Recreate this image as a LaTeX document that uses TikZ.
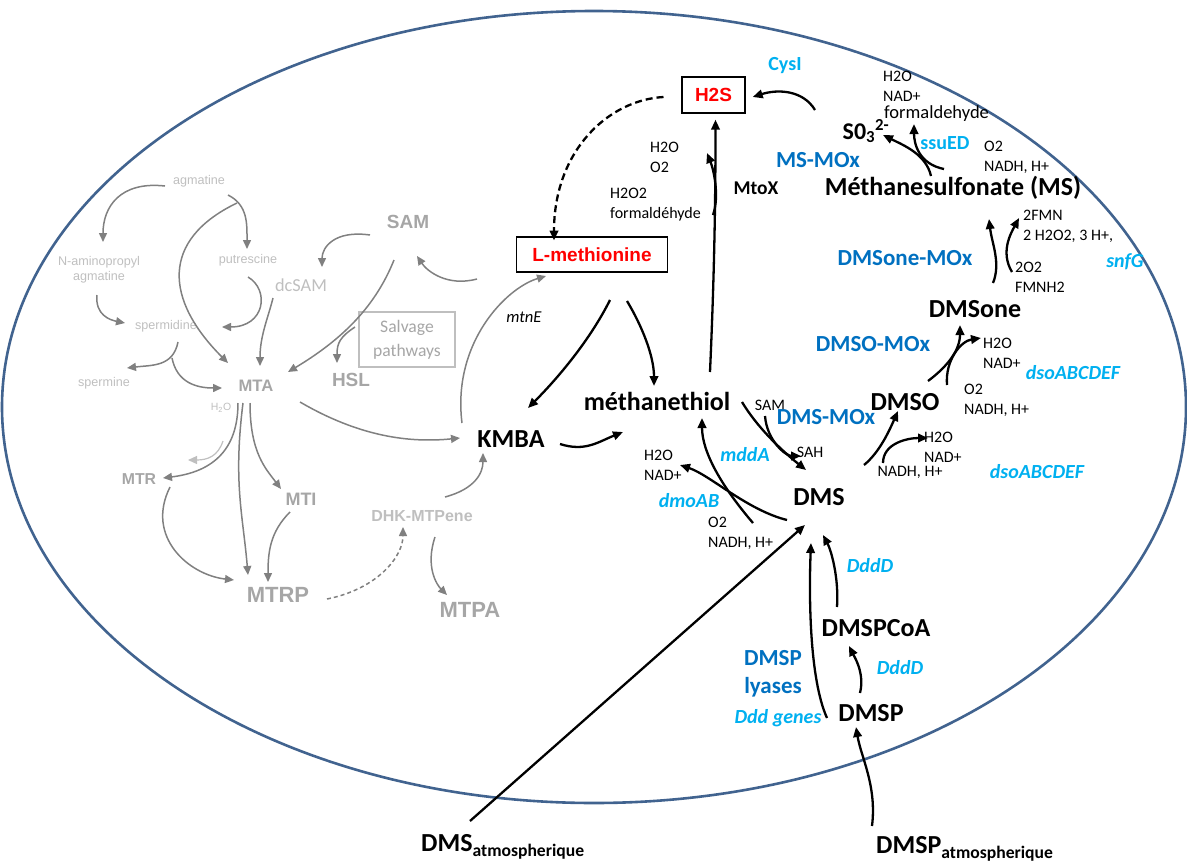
\documentclass[tikz,border=0pt]{standalone}
\usepackage{fontspec}
\setmainfont{Carlito}
\newfontfamily\arialf{Liberation Sans}
\usetikzlibrary{arrows.meta}
\definecolor{enzblue}{HTML}{0070C0}
\definecolor{geneblue}{HTML}{00B0F0}
\definecolor{cellblue}{HTML}{41638F}
\definecolor{lgrey}{HTML}{BFBFBF}
\definecolor{mgrey}{HTML}{A6A6A6}
\definecolor{agrey}{HTML}{808080}

\tikzset{
  met/.style={font=\bfseries\fontsize{26}{30}\selectfont, inner sep=1pt},
  enz/.style={font=\bfseries\fontsize{23}{28}\selectfont, text=enzblue, inner sep=1pt, align=center},
  gen/.style={font=\bfseries\itshape\fontsize{20}{24}\selectfont, text=geneblue, inner sep=1pt},
  genup/.style={font=\bfseries\fontsize{20}{24}\selectfont, text=geneblue, inner sep=1pt},
  cof/.style={font=\fontsize{16}{20}\selectfont, align=left, anchor=west, inner sep=0pt},
  redbox/.style={draw, line width=1.4pt, font=\arialf\bfseries\fontsize{19}{22}\selectfont, text=red},
  gsmall/.style={font=\arialf\fontsize{12.6}{15}\selectfont, text=lgrey, align=center, inner sep=1pt},
  gbig/.style={font=\arialf\bfseries\fontsize{#1}{#1}\selectfont, text=mgrey, inner sep=1pt},
  flux/.style={line width=2.3pt, -{Triangle[length=10pt,width=8.5pt]}},
  gflux/.style={agrey, line width=1.5pt, -{Triangle[length=9pt,width=8pt]}},
}

\begin{document}
\begin{tikzpicture}[x=1pt,y=-1pt]
\useasboundingbox (0,0) rectangle (1187,865);
\draw[cellblue, line width=2.6pt] (594,407) ellipse [x radius=592, y radius=396];

\node[redbox, minimum width=63pt, minimum height=36pt] (h2s) at (713.5,95) {H2S};
\node[redbox, minimum width=151pt, minimum height=35pt] (lmet) at (592,254.5) {L-methionine};
\node[genup] (cysi) at (785,66) {CysI};
\node[met, font=\bfseries\fontsize{24}{28}\selectfont] (so3) at (866,131) {S0\textsubscript{3}\textsuperscript{2-}};
\node[enz] (msmox) at (818,160) {MS-MOx};
\node[genup] (ssued) at (945,143) {ssuED};
\node[cof] (msout) at (883,86) {H2O\\NAD+};
\node[cof, font=\fontsize{18.5}{22}\selectfont] (msald) at (884,114) {formaldehyde};
\node[cof] (msin) at (984,157) {O2\\NADH, H+};
\node[met] (ms) at (953,188) {Méthanesulfonate (MS)};
\node[met, font=\bfseries\fontsize{19.5}{22}\selectfont] (mtox) at (756,188) {MtoX};
\node[cof] (mtoxa) at (650,157) {H2O\\O2};
\node[cof] (mtoxb) at (610,205) {H2O2\\formaldéhyde};
\node[enz] (dmsonemox) at (905,258) {DMSone-MOx};
\node[cof] (fmnout) at (1023,226) {2FMN\\2 H2O2, 3 H+,};
\node[cof] (fmnin) at (1015,277) {2O2\\FMNH2};
\node[gen] (snfg) at (1125,262) {snfG};
\node[met] (dmsone) at (975,309) {DMSone};
\node[enz] (dmsomox) at (873,344) {DMSO-MOx};
\node[cof] (dmsoout) at (983,353) {H2O\\NAD+};
\node[gen] (dsoa) at (1073,373) {dsoABCDEF};
\node[cof] (dmsoin) at (964,400) {O2\\NADH, H+};
\node[met] (dmso) at (905,402) {DMSO};
\node[cof, anchor=center] (sam) at (770,405) {SAM};
\node[enz] (dmsmox) at (826,417) {DMS-MOx};
\node[cof, anchor=center] (sah) at (810,452) {SAH};
\node[cof] (dmsout) at (924,447) {H2O\\NAD+};
\node[cof, anchor=center] (dmsin) at (910,472) {NADH, H+};
\node[gen] (dsob) at (1037,472) {dsoABCDEF};
\node[met] (dms) at (819,497) {DMS};
\node[met] (mt) at (657,401) {méthanethiol};
\node[gen] (mdda) at (745,455) {mddA};
\node[cof] (mtout) at (644,465) {H2O\\NAD+};
\node[gen] (dmoab) at (689,501) {dmoAB};
\node[cof] (mtin) at (708,533) {O2\\NADH, H+};
\node[met] (kmba) at (511,439) {KMBA};
\node[cof, anchor=center, font=\itshape\fontsize{16.6}{20}\selectfont] (mtne) at (524,317) {mtnE};
\node[gen] (dddda) at (870,566) {DddD};
\node[met] (dmspcoa) at (876,628) {DMSPCoA};
\node[gen] (ddddb) at (900,668) {DddD};
\node[enz] (lyases) at (773,674) {DMSP\\lyases};
\node[gen] (dddgenes) at (778,718) {Ddd genes};
\node[met] (dmsp) at (871,713) {DMSP};
\node[met, anchor=base west] (dmsatm) at (420,851) {DMS\raisebox{-5pt}{\fontsize{17.6}{20}\selectfont atmospherique}};
\node[met, anchor=base west] (dmspatm) at (875,853) {DMSP\raisebox{-5pt}{\fontsize{17.6}{20}\selectfont atmospherique}};

\node[gsmall] (agm) at (199,181) {agmatine};
\node[gsmall] (nap) at (99,270) {N-aminopropyl\\agmatine};
\node[gsmall] (put) at (248,260) {putrescine};
\node[gsmall, font=\fontsize{18.3}{20}\selectfont] (dcsam) at (301,285) {dcSAM};
\node[gsmall] (spd) at (166,326) {spermidine};
\node[gsmall] (spm) at (104,383) {spermine};
\node[gbig=16.6] (mta) at (256,386) {MTA};
\node[gsmall, font=\arialf\fontsize{10.5}{12}\selectfont] (wat) at (221,408) {H\textsubscript{2}O};
\node[gbig=19] (gsam) at (408,222) {SAM};
\node[gbig=19] (hsl) at (351,380) {HSL};
\node[draw=lgrey, line width=1.5pt, minimum width=96pt, minimum height=55pt, align=center, text=mgrey, font=\fontsize{17.6}{24}\selectfont] (salv) at (407,339.5) {Salvage\\pathways};
\node[gbig=15.8] (mtr) at (139,479) {MTR};
\node[gbig=18] (mti) at (301,499) {MTI};
\node[gbig=16, text=lgrey] (dhk) at (422,516) {DHK-MTPene};
\node[gbig=22] (mtrp) at (278,595) {MTRP};
\node[gbig=22] (mtpa) at (470,610) {MTPA};

\draw[flux, dash pattern=on 7pt off 4pt] ([shift={(-50,2)}]h2s.center) .. controls +(-55,3) and +(0,-90) .. ([shift={(-38,-14)}]lmet.center);
\draw[flux] ([shift={(-51,-21)}]so3.center) .. controls +(-12,-20) and +(25,-8) .. ([shift={(7,2)}]h2s.east);
\draw[flux] ([shift={(-22,-12)}]ms.center) .. controls +(-5,-22) and +(20,10) .. ([shift={(17,4)}]so3.center);
\draw[flux] ([shift={(-40,12)}]msin.west) .. controls +(-25,-5) and +(0,20) .. ([shift={(30,10)}]msald.west);
\draw[flux] ([shift={(53,-29)}]mt.center) .. controls +(4,-90) and +(0,90) .. ([shift={(2,6)}]h2s.south);
\draw[flux] ([shift={(103,10)}]mtoxb.west) .. controls +(7,-20) and +(6,15) .. ([shift={(57,-4)}]mtoxa.west);
\draw[flux] ([shift={(18,-26)}]dmsone.center) .. controls +(8,-20) and +(3,25) .. ([shift={(36,31)}]ms.center);
\draw[flux] ([shift={(-3,-5)}]fmnin.west) .. controls +(-12,-20) and +(-8,15) .. ([shift={(-4,-8)}]fmnout.west);
\draw[flux] ([shift={(23,-21)}]dmso.center) .. controls +(20,-15) and +(0,25) .. ([shift={(-15,16)}]dmsone.center);
\draw[flux] ([shift={(-17,-15)}]dmsoin.west) .. controls +(-2,-25) and +(-20,3) .. ([shift={(-2,-15)}]dmsoout.west);
\draw[flux] ([shift={(45,-32)}]dms.center) .. controls +(16,-13) and +(-8,18) .. ([shift={(-7,9)}]dmso.center);
\draw[flux] ([shift={(-27,-9)}]dmsin.center) .. controls +(0,-20) and +(-20,0) .. ([shift={(4,-9)}]dmsout.west);
\draw[flux] ([shift={(85,1)}]mt.center) .. controls +(15,25) and +(-25,-20) .. ([shift={(-13,-27)}]dms.center);
\draw[flux] ([shift={(-5,11)}]sam.center) .. controls +(2,25) and +(-15,0) .. ([shift={(-9,4)}]sah.center);
\draw[flux] ([shift={(-32,23)}]dms.center) .. controls +(-40,-10) and +(30,10) .. ([shift={(36,0)}]mtout.west);
\draw[flux] ([shift={(45,-10)}]mtin.west) .. controls +(-30,-35) and +(0,35) .. ([shift={(45,17)}]mt.center);
\draw[flux] ([shift={(18,45.5)}]lmet.center) .. controls +(-20,40) and +(30,-30) .. ([shift={(17,-31)}]kmba.center);
\draw[flux] ([shift={(35,46.5)}]lmet.center) .. controls +(15,25) and +(0,-30) .. ([shift={(-3,-15)}]mt.center);
\draw[flux] ([shift={(49,5)}]kmba.center) .. controls +(25,8) and +(-25,10) .. ([shift={(-34,31)}]mt.center);
\draw[flux] ([shift={(50,-30)}]dmsatm.base west) -- ([shift={(-14,28)}]dms.center);
\draw[flux] ([shift={(-44,5)}]dmsp.center) .. controls +(-18,-40) and +(-2,50) .. ([shift={(-8,46)}]dms.center);
\draw[flux] ([shift={(-39,-21)}]dmspcoa.center) .. controls +(2,-30) and +(8,15) .. ([shift={(4,38)}]dms.center);
\draw[flux] ([shift={(-11,-20)}]dmsp.center) .. controls +(5,-20) and +(5,10) .. ([shift={(-27,18)}]dmspcoa.center);
\draw[flux] ([shift={(-3,-27)}]dmspatm.base west) .. controls +(5,-40) and +(5,30) .. ([shift={(-15,14)}]dmsp.center);

\draw[gflux] ([shift={(-34,5)}]agm.center) .. controls +(-45,-5) and +(0,-35) .. ([shift={(4,-28)}]nap.center);
\draw[gflux] ([shift={(29,14)}]agm.center) .. controls +(20,10) and +(0,-25) .. ([shift={(-1,-11)}]put.center);
\draw[gflux] ([shift={(38,22)}]agm.center) .. controls +(-77,37) and +(-63,-63) .. ([shift={(-28,-23)}]mta.center);
\draw[gflux] ([shift={(-2,25)}]nap.center) .. controls +(-2,20) and +(-15,-3) .. ([shift={(-41,-3)}]spd.center);
\draw[gflux] ([shift={(0,17)}]put.center) .. controls +(22,13) and +(43,0) .. ([shift={(56,1)}]spd.center);
\draw[gflux] ([shift={(-28,13)}]dcsam.center) .. controls +(-5,20) and +(0,-30) .. ([shift={(4,-20)}]mta.center);
\draw[gflux] ([shift={(12,16)}]spd.center) .. controls +(-5,25) and +(25,-3) .. ([shift={(23,-15)}]spm.center);
\draw[gflux] ([shift={(6,32)}]spd.center) .. controls +(5,25) and +(-25,0) .. ([shift={(-34,2)}]mta.center);
\draw[gflux] ([shift={(-38,13)}]gsam.center) .. controls +(-35,-5) and +(0,-20) .. ([shift={(21,-18)}]dcsam.center);
\draw[gflux] ([shift={(-14,38)}]gsam.center) .. controls +(-20,50) and +(50,-30) .. ([shift={(32,-14)}]mta.center);
\draw[gflux] ([shift={(4,-53)}]hsl.center) .. controls +(-15,10) and +(0,-20) .. ([shift={(-14,-17)}]hsl.center);
\draw[gflux] ([shift={(-115,24.5)}]lmet.center) .. controls +(-30,8) and +(10,15) .. ([shift={(9,34)}]gsam.center);
\draw[gflux] ([shift={(-49,-16)}]kmba.center) .. controls +(-10,-80) and +(-40,12) .. ([shift={(-46,21.5)}]lmet.center);
\draw[gflux] ([shift={(44,16)}]mta.center) .. controls +(60,35) and +(-50,5) .. ([shift={(-51,-1)}]kmba.center);
\draw[gflux] ([shift={(23,-19)}]dhk.center) .. controls +(30,-8) and +(0,20) .. ([shift={(-28,14)}]kmba.center);
\draw[gflux] ([shift={(13,21)}]dhk.center) .. controls +(-10,30) and +(-10,-10) .. ([shift={(-23,-15)}]mtpa.center);
\draw[gflux, dash pattern=on 4pt off 3pt] ([shift={(49,4)}]mtrp.center) .. controls +(50,-10) and +(0,30) .. ([shift={(-19,11)}]dhk.center);
\draw[gflux] ([shift={(-18,17)}]mta.center) .. controls +(0,55) and +(40,-5) .. ([shift={(24,-1)}]mtr.center);
\draw[gflux, lgrey, line width=1.2pt] ([shift={(-33,55)}]mta.center) .. controls +(-5,15) and +(20,0) .. ([shift={(49,-19)}]mtr.center);
\draw[gflux] ([shift={(-13,17)}]mta.center) .. controls +(-10,80) and +(-5,-60) .. ([shift={(-30,-20)}]mtrp.center);
\draw[gflux] ([shift={(-6,17)}]mta.center) .. controls +(0,50) and +(-15,-20) .. ([shift={(-20,-10)}]mti.center);
\draw[gflux] ([shift={(-11,13)}]mti.center) .. controls +(-20,20) and +(0,-30) .. ([shift={(-10,-13)}]mtrp.center);
\draw[gflux] ([shift={(31,8)}]mtr.center) .. controls +(-25,50) and +(-45,-5) .. ([shift={(-44,-15)}]mtrp.center);
\end{tikzpicture}
\end{document}
